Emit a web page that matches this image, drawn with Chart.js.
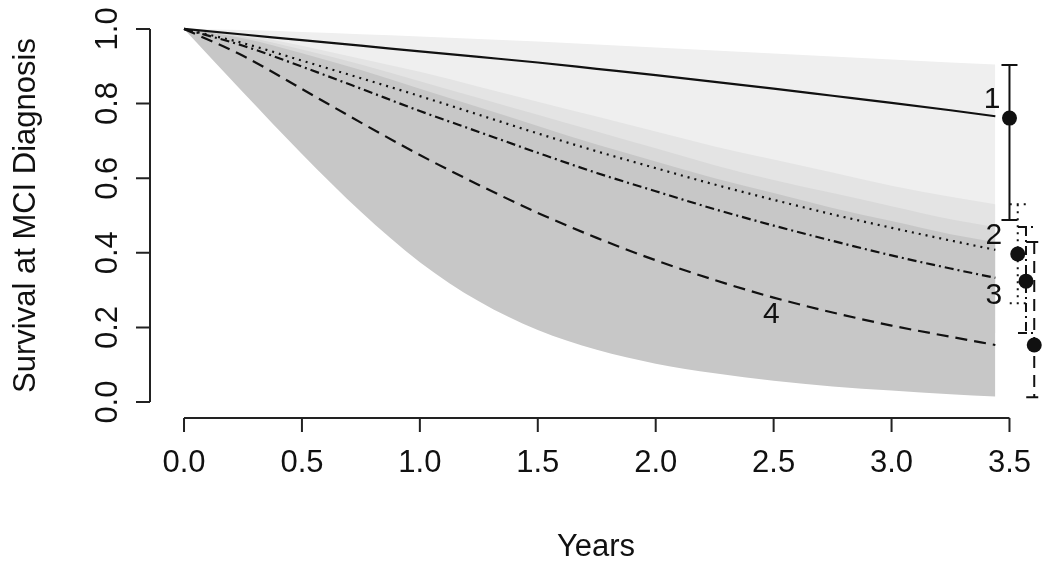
<!DOCTYPE html>
<html>
<head>
<meta charset="utf-8">
<script src="https://cdn.jsdelivr.net/npm/chart.js@4/dist/chart.umd.min.js"></script>
<style>
html,body{margin:0;padding:0;background:#fff;}
#wrap{width:1050px;height:566px;position:relative;}
canvas{display:block;}
</style>
</head>
<body>
<div id="wrap"><canvas id="c" width="1050" height="566"></canvas></div>
<script>
// ---- data ----
const years = [0, 0.25, 0.5, 0.75, 1.0, 1.25, 1.5, 1.75, 2.0, 2.25, 2.5, 2.75, 3.0, 3.25, 3.44];

const surv1 = [1, 0.985, 0.970, 0.955, 0.940, 0.925, 0.910, 0.893, 0.876, 0.858, 0.840, 0.821, 0.802, 0.782, 0.766];
const surv2 = [1, 0.962, 0.915, 0.868, 0.820, 0.770, 0.720, 0.672, 0.627, 0.583, 0.542, 0.503, 0.467, 0.433, 0.408];
const surv3 = [1, 0.955, 0.899, 0.840, 0.780, 0.724, 0.668, 0.614, 0.565, 0.517, 0.473, 0.432, 0.393, 0.358, 0.333];
const surv4 = [1, 0.928, 0.839, 0.749, 0.662, 0.582, 0.507, 0.440, 0.380, 0.327, 0.280, 0.240, 0.205, 0.175, 0.153];

const upper1 = [1, 0.997, 0.992, 0.986, 0.980, 0.973, 0.966, 0.958, 0.950, 0.942, 0.934, 0.926, 0.918, 0.910, 0.905];
const lower1 = [1, 0.965, 0.930, 0.890, 0.850, 0.810, 0.770, 0.730, 0.690, 0.650, 0.610, 0.570, 0.535, 0.505, 0.488];
const upper2 = [1, 0.985, 0.955, 0.920, 0.885, 0.845, 0.805, 0.765, 0.725, 0.685, 0.650, 0.615, 0.580, 0.550, 0.530];
const lower2 = [1, 0.930, 0.860, 0.790, 0.720, 0.660, 0.600, 0.550, 0.500, 0.450, 0.410, 0.370, 0.330, 0.290, 0.265];
const upper3 = [1, 0.980, 0.945, 0.905, 0.860, 0.815, 0.770, 0.725, 0.680, 0.635, 0.595, 0.560, 0.525, 0.490, 0.469];
const lower3 = [1, 0.920, 0.840, 0.760, 0.690, 0.620, 0.550, 0.490, 0.430, 0.380, 0.330, 0.290, 0.250, 0.210, 0.185];
const upper4 = [1, 0.975, 0.935, 0.890, 0.840, 0.790, 0.740, 0.690, 0.645, 0.600, 0.560, 0.520, 0.485, 0.450, 0.429];
const lower4 = [1, 0.830, 0.665, 0.510, 0.375, 0.270, 0.193, 0.140, 0.103, 0.077, 0.057, 0.042, 0.031, 0.021, 0.015];

// observed survival with intervals (right-hand error bars)
const obsX    = [3.5, 3.535, 3.57, 3.605];
const obsMid  = [0.761, 0.397, 0.324, 0.153];
const obsLow  = [0.488, 0.265, 0.185, 0.013];
const obsHigh = [0.903, 0.530, 0.469, 0.429];

// curve labels
const curveLabels = ['1', '2', '3', '4'];
const labelX = [3.426, 3.434, 3.434, 2.49];
const labelY = [0.810, 0.445, 0.284, 0.233];

const xTicks = [0, 0.5, 1.0, 1.5, 2.0, 2.5, 3.0, 3.5];
const yTicks = [0, 0.2, 0.4, 0.6, 0.8, 1.0];
const xTitle = 'Years';
const yTitle = 'Survival at MCI Diagnosis';

// ---- styles ----
const FONT = '"Liberation Sans", Arial, Helvetica, sans-serif';
const bandColors = ['#efefef', '#e4e4e4', '#d9d9d9', '#c7c7c7'];
const lineDashes = [[], [2, 5], [9, 4, 2, 4], [12, 7]];
const ink = '#111111';

const pts = arr => arr.map((v, i) => ({x: years[i], y: v}));

const bands = [[upper1, lower1], [upper2, lower2], [upper3, lower3], [upper4, lower4]];
const curves = [surv1, surv2, surv3, surv4];

const datasets = [];
bands.forEach((b, i) => {
  datasets.push({
    data: pts(b[0]), borderWidth: 0, borderColor: 'rgba(0,0,0,0)', pointRadius: 0,
    backgroundColor: bandColors[i], fill: '+1', order: 10 - i,
    cubicInterpolationMode: 'monotone'
  });
  datasets.push({
    data: pts(b[1]), borderWidth: 0, borderColor: 'rgba(0,0,0,0)', pointRadius: 0,
    fill: false, order: 10 - i, cubicInterpolationMode: 'monotone'
  });
});
curves.forEach((c, i) => {
  datasets.push({
    data: pts(c), borderColor: ink, borderWidth: 2.2, borderDash: lineDashes[i],
    pointRadius: 0, fill: false, order: 1, cubicInterpolationMode: 'monotone'
  });
});
datasets.push({
  type: 'scatter',
  data: obsX.map((x, i) => ({x: x, y: obsMid[i]})),
  pointRadius: 7.5, pointBackgroundColor: ink, pointBorderColor: ink,
  pointBorderWidth: 0, showLine: false, order: 0
});

const overlay = {
  id: 'overlay',
  beforeDatasetsDraw(chart) {
    const {ctx} = chart;
    const xs = chart.scales.x, ys = chart.scales.y;
    ctx.save();
    ctx.strokeStyle = ink;
    ctx.lineWidth = 2;
    obsX.forEach((xv, i) => {
      const px = xs.getPixelForValue(xv);
      const pt = ys.getPixelForValue(obsHigh[i]);
      const pb = ys.getPixelForValue(obsLow[i]);
      ctx.setLineDash(lineDashes[i]);
      ctx.beginPath();
      ctx.moveTo(px, pt); ctx.lineTo(px, pb);
      ctx.moveTo(px - 8, pt); ctx.lineTo(px + 8, pt);
      ctx.moveTo(px - 8, pb); ctx.lineTo(px + 8, pb);
      ctx.stroke();
    });
    ctx.restore();
  },
  afterDraw(chart) {
    const {ctx, chartArea} = chart;
    const xs = chart.scales.x, ys = chart.scales.y;
    ctx.save();
    ctx.setLineDash([]);
    ctx.strokeStyle = '#222';
    ctx.fillStyle = '#111';
    ctx.lineWidth = 2;
    // x axis
    const ay = chartArea.bottom + 1;
    ctx.beginPath();
    ctx.moveTo(xs.getPixelForValue(xTicks[0]), ay);
    ctx.lineTo(xs.getPixelForValue(xTicks[xTicks.length - 1]), ay);
    xTicks.forEach(t => {
      const px = xs.getPixelForValue(t);
      ctx.moveTo(px, ay); ctx.lineTo(px, ay + 14);
    });
    ctx.stroke();
    ctx.font = '31px ' + FONT;
    ctx.textAlign = 'center';
    ctx.textBaseline = 'middle';
    xTicks.forEach(t => {
      ctx.fillText(t.toFixed(1), xs.getPixelForValue(t), ay + 45);
    });
    // y axis
    const ax = chartArea.left - 1;
    ctx.beginPath();
    ctx.moveTo(ax, ys.getPixelForValue(yTicks[0]));
    ctx.lineTo(ax, ys.getPixelForValue(yTicks[yTicks.length - 1]));
    yTicks.forEach(t => {
      const py = ys.getPixelForValue(t);
      ctx.moveTo(ax, py); ctx.lineTo(ax - 14, py);
    });
    ctx.stroke();
    yTicks.forEach(t => {
      const py = ys.getPixelForValue(t);
      ctx.save();
      ctx.translate(ax - 42, py);
      ctx.rotate(-Math.PI / 2);
      ctx.fillText(t.toFixed(1), 0, 0);
      ctx.restore();
    });
    // titles
    ctx.fillText(xTitle, 596, 547);
    ctx.save();
    ctx.translate(26, (chartArea.top + chartArea.bottom) / 2);
    ctx.rotate(-Math.PI / 2);
    ctx.fillText(yTitle, 0, 0);
    ctx.restore();
    // curve labels
    ctx.font = '30px ' + FONT;
    curveLabels.forEach((s, i) => {
      ctx.fillText(s, xs.getPixelForValue(labelX[i]), ys.getPixelForValue(labelY[i]));
    });
    ctx.restore();
  }
};

new Chart(document.getElementById('c'), {
  type: 'line',
  data: {datasets: datasets},
  options: {
    responsive: false,
    animation: false,
    devicePixelRatio: 1,
    parsing: true,
    layout: {padding: {left: 151, right: 1, top: 14, bottom: 149}},
    plugins: {legend: {display: false}, tooltip: {enabled: false}, filler: {propagate: false}},
    scales: {
      x: {type: 'linear', min: -0.14, max: 3.64, display: false},
      y: {type: 'linear', min: -0.04, max: 1.04, display: false}
    },
    elements: {line: {tension: 0}}
  },
  plugins: [overlay]
});
</script>
</body>
</html>
